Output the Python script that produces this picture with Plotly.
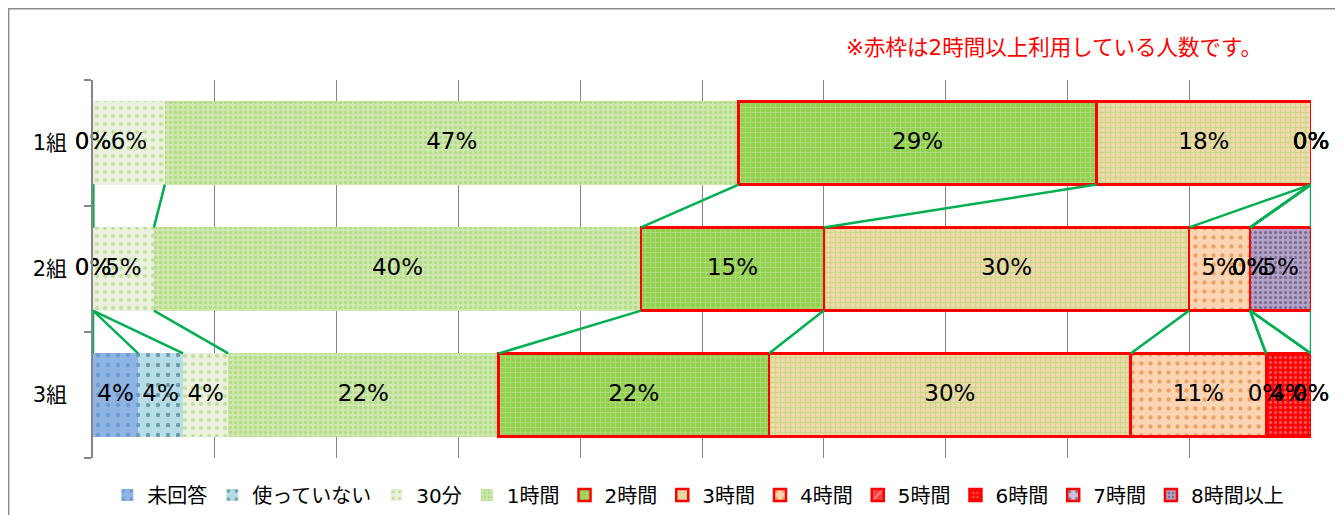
import plotly.graph_objects as go

groups = ["1組", "2組", "3組"]
series_names = ["未回答", "使っていない", "30分", "1時間", "2時間", "3時間",
                "4時間", "5時間", "6時間", "7時間", "8時間以上"]
# percentages per group (rows) for each series (columns)
vals_1 = [0, 0, 5.9, 47.1, 29.4, 17.6, 0, 0, 0, 0, 0]
vals_2 = [0, 0, 5.0, 40.0, 15.0, 30.0, 5.0, 0, 0, 0, 5.0]
vals_3 = [3.7, 3.7, 3.7, 22.2, 22.2, 29.7, 11.1, 0, 3.7, 0, 0]
note_text = "※赤枠は2時間以上利用している人数です。"

values = [vals_1, vals_2, vals_3]

styles = [
    dict(bg="#8EB4E3", fg="#4F81BD", shape=".", size=10, sol=0.15, red=False),
    dict(bg="#B7DEE8", fg="#215968", shape=".", size=10, sol=0.15, red=False),
    dict(bg="#EBF1DE", fg="#92D050", shape=".", size=8, sol=0.2, red=False),
    dict(bg="#CFE8B0", fg="#96D05A", shape=".", size=5, sol=0.4, red=False),
    dict(bg="#92D050", fg="#C6E4A0", shape="+", size=5, sol=0.35, red=True),
    dict(bg="#F5D9AE", fg="#A3D46A", shape="+", size=5, sol=0.45, red=True),
    dict(bg="#FCD5B5", fg="#E46C0A", shape=".", size=9, sol=0.18, red=True),
    dict(bg="#FF4040", fg="#FFC0C0", shape="/", size=8, sol=0.3, red=True),
    dict(bg="#FF0000", fg="#FFA0A0", shape=".", size=5, sol=0.35, red=True),
    dict(bg="#CCC1DA", fg="#403152", shape=".", size=9, sol=0.18, red=True),
    dict(bg="#B3A2C7", fg="#403152", shape=".", size=5, sol=0.3, red=True),
]

FONT = "Verdana, DejaVu Sans, Noto Sans CJK JP"
BAR_W = 0.66
ypos = list(range(len(groups)))

fig = go.Figure()

for s, name in enumerate(series_names):
    st = styles[s]
    fig.add_trace(go.Bar(
        name=name,
        orientation="h",
        y=ypos,
        x=[values[g][s] for g in range(len(groups))],
        width=BAR_W,
        marker=dict(
            color=st["bg"],
            pattern=dict(shape=st["shape"], fgcolor=st["fg"], bgcolor=st["bg"],
                         size=st["size"], solidity=st["sol"]),
            line=dict(color="#FF0000" if st["red"] else "rgba(0,0,0,0)",
                      width=2.5 if st["red"] else 0),
        ),
        hoverinfo="skip",
    ))

# cumulative ends
cums = []
for g in range(len(groups)):
    c, row = 0, []
    for v in values[g]:
        c += v
        row.append(c)
    cums.append(row)

# series lines (connect ends of each series between adjacent groups)
lx, ly = [], []
for g in range(len(groups) - 1):
    lx += [0, 0, None]
    ly += [g + BAR_W / 2, g + 1 - BAR_W / 2, None]
    for s in range(len(series_names)):
        lx += [cums[g][s], cums[g + 1][s], None]
        ly += [g + BAR_W / 2, g + 1 - BAR_W / 2, None]
fig.add_trace(go.Scatter(x=lx, y=ly, mode="lines",
                         line=dict(color="#00B050", width=2.5),
                         showlegend=False, hoverinfo="skip", cliponaxis=False))

# data labels
for g in range(len(groups)):
    mids, texts = [], []
    for s in range(len(series_names)):
        v = values[g][s]
        mids.append(cums[g][s] - v / 2)
        texts.append(f"{round(v)}%")
    fig.add_trace(go.Scatter(x=mids, y=[g] * len(mids), mode="text", text=texts,
                             textposition="middle center", cliponaxis=False,
                             textfont=dict(family=FONT, size=23, color="#000000"),
                             showlegend=False, hoverinfo="skip"))

PLOT_W, PLOT_H = 1218, 378
ML, MT, MB = 85, 72, 75

# page body has an 8px margin, so the figure is offset by (8, 8)
fig.update_layout(
    barmode="stack",
    width=1335, height=MT + PLOT_H + MB,
    margin=dict(l=ML, r=1335 - ML - PLOT_W, t=MT, b=MB),
    paper_bgcolor="white", plot_bgcolor="white",
    font=dict(family=FONT, size=20, color="#000000"),
    showlegend=True,
    legend=dict(orientation="h", x=0.497, xanchor="center", y=-0.098, yanchor="middle",
                font=dict(family=FONT, size=20), traceorder="normal",
                itemwidth=30, tracegroupgap=0),
    xaxis=dict(range=[0, 100], dtick=10, showgrid=True, gridcolor="#868686", gridwidth=1,
               showticklabels=False, zeroline=False, showline=False, ticks=""),
    yaxis=dict(range=[2.5, -0.5], tickmode="array", tickvals=ypos, ticktext=groups,
               showgrid=False, zeroline=False, showline=True, linecolor="#868686",
               linewidth=1.5, ticks="", ticklabelstandoff=20,
               tickfont=dict(family=FONT, size=21),
               minor=dict(tickmode="array", tickvals=[-0.5, 0.5, 1.5, 2.5],
                          ticks="outside", ticklen=7, tickcolor="#868686", tickwidth=1.5,
                          showgrid=False)),
    annotations=[dict(text=note_text, xref="paper", yref="paper", x=0.789, y=1.087,
                      xanchor="center", yanchor="middle", showarrow=False,
                      font=dict(family=FONT, size=21.5, color="#FF0000"))],
    shapes=[dict(type="rect", xref="paper", yref="paper",
                 x0=-(ML - 0.7) / PLOT_W, x1=(1330 - ML) / PLOT_W,
                 y0=-(MB + 20) / PLOT_H, y1=1 + (MT - 0.7) / PLOT_H,
                 line=dict(color="#8C8C8C", width=1.4), fillcolor="rgba(0,0,0,0)",
                 layer="below")],
)

fig.write_html("out.html")
